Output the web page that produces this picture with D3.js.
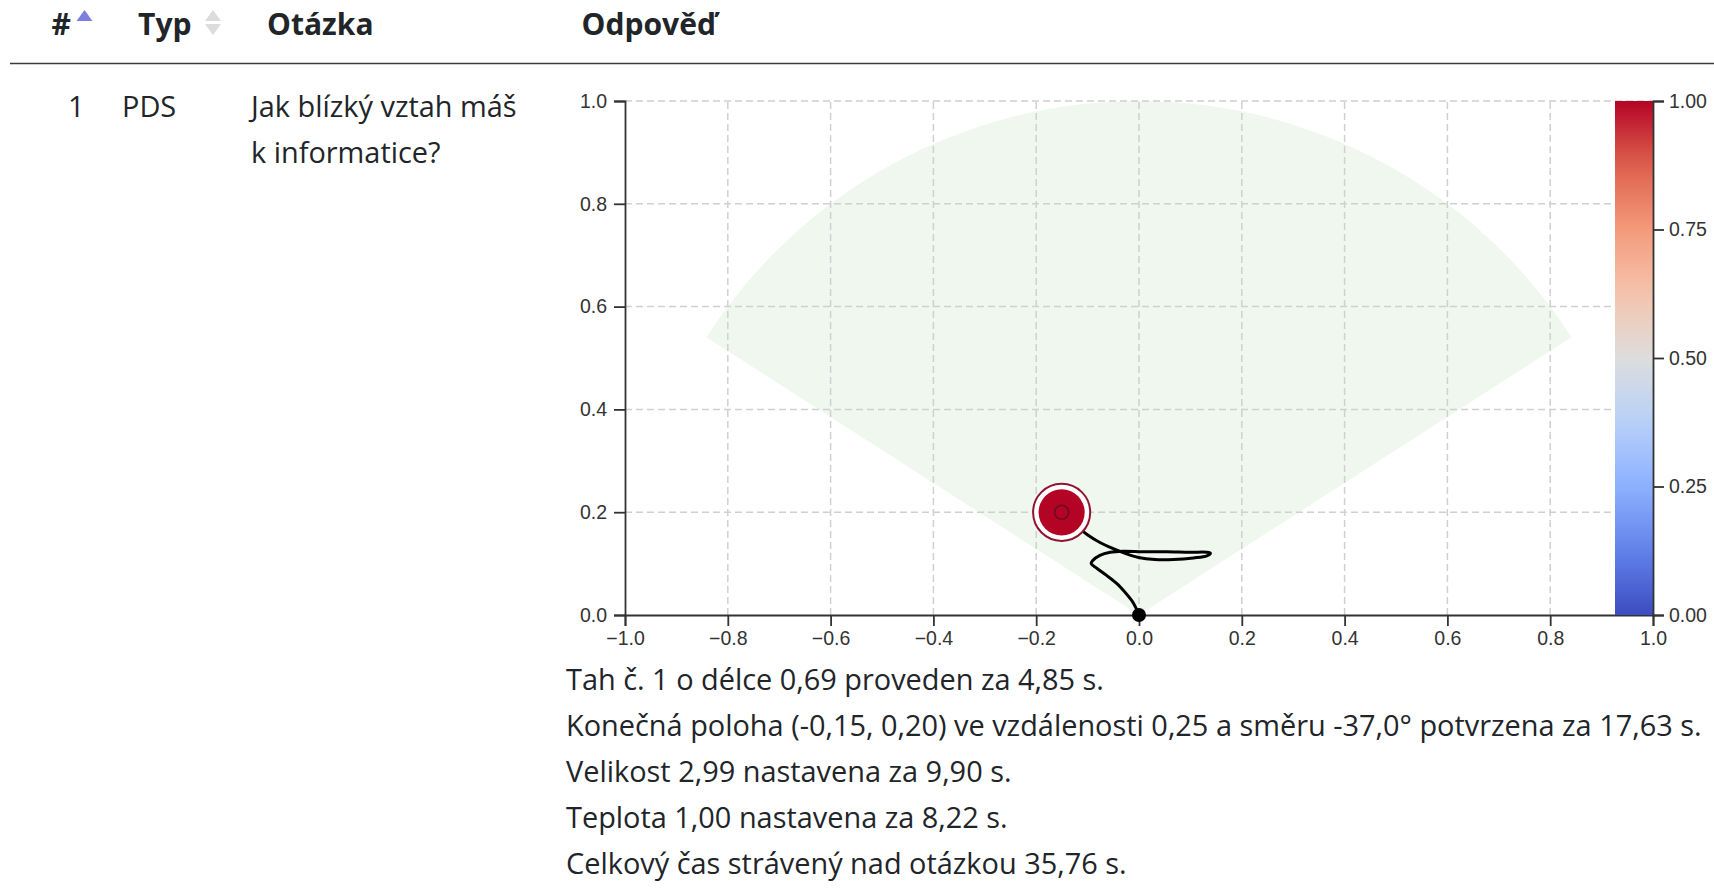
<!DOCTYPE html>
<html><head><meta charset="utf-8">
<script src="https://cdn.jsdelivr.net/npm/d3@7"></script>
<style>
html,body{margin:0;padding:0;background:#fff;}
svg{display:block;}
</style></head>
<body>
<svg id="c" width="1714" height="893"></svg>
<script>
// ---------- DATA ----------
const headerLabels = ["#", "Typ", "Otázka", "Odpověď"];
const rowNumber = "1";
const rowType = "PDS";
const questionLines = ["Jak blízký vztah máš", "k informatice?"];
const infoLines = [
  "Tah č. 1 o délce 0,69 proveden za 4,85 s.",
  "Konečná poloha (-0,15, 0,20) ve vzdálenosti 0,25 a směru -37,0° potvrzena za 17,63 s.",
  "Velikost 2,99 nastavena za 9,90 s.",
  "Teplota 1,00 nastavena za 8,22 s.",
  "Celkový čas strávený nad otázkou 35,76 s."
];
const xTicks = [-1.0, -0.8, -0.6, -0.4, -0.2, 0.0, 0.2, 0.4, 0.6, 0.8, 1.0];
const yTicks = [0.0, 0.2, 0.4, 0.6, 0.8, 1.0];
const colorTicks = [0.00, 0.25, 0.50, 0.75, 1.00];
// stroke (drag) trajectory, data coordinates
const strokeX = [0.000, -0.006, -0.014, -0.027, -0.043, -0.063, -0.082, -0.093, -0.090, -0.076, -0.056, -0.031, 0.008, 0.054, 0.099, 0.132, 0.139, 0.132, 0.106, 0.067, 0.031, -0.001, -0.027, -0.050, -0.076, -0.099, -0.115, -0.1505];
const strokeY = [0.000, 0.014, 0.028, 0.044, 0.061, 0.077, 0.091, 0.100, 0.106, 0.116, 0.122, 0.124, 0.123, 0.123, 0.122, 0.122, 0.120, 0.115, 0.111, 0.108, 0.108, 0.112, 0.120, 0.129, 0.141, 0.155, 0.168, 0.1997];
const finalPosition = [-0.1505, 0.1997];
const markerSize = 2.99;
const markerTemperature = 1.00;
const sectorHalfAngle = 1.0; // radians either side of vertical

// ---------- STYLE ----------
const coolwarmStops = ["#3b4cc0", "#6282ea", "#8db0fe", "#b8d0f9", "#dddddd", "#f5c4ad", "#f49a7b", "#de604d", "#b40426"];
const coolwarm = d3.piecewise(d3.interpolateRgb, coolwarmStops);
const textColor = "#212529";
const tableFont = "'Open Sans', 'Noto Sans', sans-serif";
const axisFont = "'Liberation Sans', Arial, sans-serif";
const sizeToRadius = 0.015; // data units per size unit

const svg = d3.select("#c");

// ---------- TABLE ----------
function fitFactor(sel, target) { return target / sel.node().getComputedTextLength(); }

// header
const hdr = svg.append("g").attr("font-family", tableFont).attr("font-weight", 700).attr("fill", textColor);
const probe = hdr.append("text").attr("font-size", 24).text(headerLabels[3]);
const hSize = 24 * fitFactor(probe, 134.5);
probe.remove();
const headerX = [51.5, 138, 267, 581.5];
hdr.selectAll("text").data(headerLabels).join("text")
  .attr("x", (d, i) => headerX[i]).attr("y", 35)
  .attr("font-size", hSize).text(d => d);

// sort icons
svg.append("path").attr("d", "M76.5,21L92.5,21L84.5,10Z").attr("fill", "#7c7fe0");
svg.append("path").attr("d", "M205,21L221,21L213,10Z").attr("fill", "#dcdcdc");
svg.append("path").attr("d", "M205,24L221,24L213,35Z").attr("fill", "#dcdcdc");

svg.append("line").attr("x1", 10).attr("x2", 1714).attr("y1", 63.5).attr("y2", 63.5)
  .attr("stroke", "#3a3a3a").attr("stroke-width", 1.6);

// body text size fitted to the longest info line
const body = svg.append("g").attr("font-family", tableFont).attr("fill", textColor);
const probe2 = body.append("text").attr("font-size", 24).text(infoLines[1]);
const bSize = 24 * fitFactor(probe2, 1136);
probe2.remove();

body.append("text").attr("x", 68).attr("y", 117).attr("font-size", bSize).text(rowNumber);
body.append("text").attr("x", 122).attr("y", 117).attr("font-size", bSize).text(rowType);
body.selectAll("text.q").data(questionLines).join("text").attr("class", "q")
  .attr("x", 251).attr("y", (d, i) => 117 + i * 45.5).attr("font-size", bSize).text(d => d);
body.selectAll("text.info").data(infoLines).join("text").attr("class", "info")
  .attr("x", 566).attr("y", (d, i) => 689.5 + i * 46).attr("font-size", bSize).text(d => d);

// ---------- CHART ----------
const x = d3.scaleLinear().domain([-1, 1]).range([625, 1653]);
const y = d3.scaleLinear().domain([0, 1]).range([615, 101]);
const chart = svg.append("g");

// allowed sector
const arc = d3.arc().innerRadius(0).outerRadius(x(1) - x(0))
  .startAngle(-sectorHalfAngle).endAngle(sectorHalfAngle);
chart.append("path").attr("d", arc()).attr("transform", `translate(${x(0)},${y(0)})`)
  .attr("fill", "#eff7ef");

// grid
const grid = chart.append("g").attr("stroke", "#d0d0d0").attr("stroke-width", 1.5).attr("stroke-dasharray", "7,4");
grid.selectAll("line.v").data(xTicks.filter(d => d > -1 && d < 1)).join("line").attr("class", "v")
  .attr("x1", d => x(d)).attr("x2", d => x(d)).attr("y1", y(0)).attr("y2", y(1));
grid.selectAll("line.h").data(yTicks.filter(d => d > 0)).join("line").attr("class", "h")
  .attr("x1", x(-1)).attr("x2", x(1)).attr("y1", d => y(d)).attr("y2", d => y(d));

// axes
function styleAxis(g) {
  g.attr("font-size", 19.5).attr("font-family", axisFont);
  g.selectAll("path,line").attr("stroke", "#333").attr("stroke-width", 1.8);
  g.selectAll("text").attr("fill", "#333");
}
chart.append("g").attr("transform", `translate(0,${y(0)})`)
  .call(d3.axisBottom(x).tickValues(xTicks).tickFormat(d3.format(".1f")).tickSize(11).tickPadding(5))
  .call(styleAxis);
chart.append("g").attr("transform", `translate(${x(-1)},0)`)
  .call(d3.axisLeft(y).tickValues(yTicks).tickFormat(d3.format(".1f")).tickSize(11).tickPadding(7))
  .call(styleAxis);

// trajectory
const pts = strokeX.map((d, i) => [d, strokeY[i]]);
chart.append("path").datum(pts)
  .attr("d", d3.line().x(d => x(d[0])).y(d => y(d[1])).curve(d3.curveCatmullRom.alpha(0.5)))
  .attr("fill", "none").attr("stroke", "#000").attr("stroke-width", 3)
  .attr("stroke-linecap", "round").attr("stroke-linejoin", "round");
chart.append("circle").attr("cx", x(0)).attr("cy", y(0)).attr("r", 7).attr("fill", "#000");

// final marker
const r = x(markerSize * sizeToRadius) - x(0);
const mx = x(finalPosition[0]), my = y(finalPosition[1]);
chart.append("circle").attr("cx", mx).attr("cy", my).attr("r", r + 5.5)
  .attr("fill", "#fff").attr("stroke", "#8e1430").attr("stroke-width", 2);
chart.append("circle").attr("cx", mx).attr("cy", my).attr("r", r)
  .attr("fill", coolwarm(markerTemperature));
chart.append("circle").attr("cx", mx).attr("cy", my).attr("r", 7)
  .attr("fill", "none").attr("stroke", "#6a0a1e").attr("stroke-width", 1.5);

// colorbar
const cy = d3.scaleLinear().domain([0, 1]).range([y(0), y(1)]);
const defs = svg.append("defs");
const grad = defs.append("linearGradient").attr("id", "cw").attr("x1", 0).attr("y1", 1).attr("x2", 0).attr("y2", 0);
grad.selectAll("stop").data(d3.range(0, 1.0001, 0.05)).join("stop")
  .attr("offset", d => d).attr("stop-color", d => coolwarm(d));
const cbW = 38;
chart.append("rect").attr("x", x(1) - cbW).attr("y", cy(1)).attr("width", cbW).attr("height", cy(0) - cy(1))
  .attr("fill", "url(#cw)");
chart.append("g").attr("transform", `translate(${x(1)},0)`)
  .call(d3.axisRight(cy).tickValues(colorTicks).tickFormat(d3.format(".2f")).tickSize(11).tickPadding(5))
  .call(styleAxis);
</script>
</body></html>
